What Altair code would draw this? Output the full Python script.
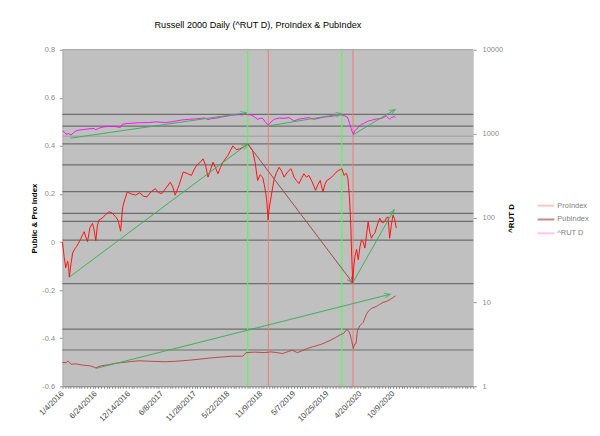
import json
import math
import altair as alt
import pandas as pd

# ---------------- layout constants ----------------
W, H = 415, 340
X_MAX = 1490          # trading-day categories on the x axis
LEFT_DOMAIN = [-0.6, 0.8]
RIGHT_DOMAIN = [1, 10000]
FONT = "Liberation Sans"

# ---------------- data ----------------
date_labels = ["1/4/2016", "6/24/2016", "12/14/2016", "6/8/2017", "11/28/2017",
               "5/22/2018", "11/9/2018", "5/7/2019", "10/25/2019", "4/20/2020",
               "10/9/2020"]
label_step = 120

pro_idx = [0, 6, 12, 16, 19, 22, 25, 31, 37, 44, 51, 58, 67, 73, 79, 85, 91, 100,
           109, 115, 121, 127, 133, 145, 157, 169, 181, 193, 202, 211, 215, 219,
           227, 235, 250, 265, 280, 295, 307, 322, 337, 349, 361, 376, 391, 400,
           409, 424, 438, 453, 468, 477, 486, 498, 510, 519, 528, 537, 546, 555,
           564, 573, 582, 600, 618, 630, 642, 657, 672, 681, 690, 699, 708, 717,
           726, 732, 738, 742, 746, 749, 752, 760, 768, 777, 786, 795, 804, 816,
           828, 834, 840, 849, 858, 867, 876, 885, 894, 906, 918, 927, 935, 945,
           952, 959, 971, 983, 992, 1001, 1007, 1013, 1018, 1022, 1027, 1031,
           1036, 1041, 1044, 1046, 1049, 1053, 1057, 1061, 1067, 1073, 1079, 1085,
           1091, 1097, 1103, 1109, 1115, 1121, 1127, 1133, 1142, 1151, 1160, 1169,
           1175, 1181, 1187, 1193, 1199, 1205, 1211]
pro_val = [0.0, -0.06, -0.107, -0.09, -0.08, -0.10, -0.146, -0.09, -0.046, -0.03,
           -0.019, -0.005, 0.015, 0.03, 0.043, 0.02, 0.002, 0.06, 0.078, 0.05,
           0.006, 0.07, 0.092, 0.10, 0.115, 0.126, 0.12, 0.105, 0.09, 0.045, 0.10,
           0.148, 0.18, 0.208, 0.20, 0.195, 0.205, 0.19, 0.188, 0.21, 0.222, 0.205,
           0.202, 0.225, 0.249, 0.23, 0.195, 0.24, 0.291, 0.285, 0.277, 0.30,
           0.318, 0.33, 0.346, 0.32, 0.27, 0.30, 0.332, 0.31, 0.284, 0.31, 0.332,
           0.36, 0.40, 0.385, 0.387, 0.395, 0.408, 0.395, 0.38, 0.33, 0.256, 0.28,
           0.27, 0.24, 0.20, 0.16, 0.092, 0.13, 0.154, 0.21, 0.263, 0.29, 0.311,
           0.295, 0.27, 0.29, 0.305, 0.29, 0.27, 0.255, 0.243, 0.265, 0.284, 0.27,
           0.277, 0.25, 0.215, 0.24, 0.256, 0.208, 0.24, 0.256, 0.265, 0.277,
           0.29, 0.298, 0.30, 0.305, 0.29, 0.277, 0.285, 0.284, 0.26, 0.188, 0.12,
           0.066, -0.05, -0.169, -0.10, -0.06, -0.03, -0.074, -0.02, 0.009, 0.0,
           -0.025, 0.03, 0.085, 0.04, 0.016, 0.03, 0.037, 0.07, 0.099, 0.08, 0.085,
           0.10, 0.105, 0.016, 0.07, 0.112, 0.095, 0.058]

pub_idx = [0, 13, 20, 31, 50, 73, 100, 121, 140, 169, 190, 217, 250, 277, 320,
           373, 410, 456, 500, 540, 580, 612, 654, 660, 666, 700, 732, 756, 780,
           798, 820, 834, 852, 870, 888, 910, 935, 950, 971, 990, 1007, 1020, 1031,
           1038, 1043, 1049, 1055, 1060, 1065, 1070, 1079, 1091, 1103, 1112, 1121,
           1139, 1150, 1163, 1175, 1187, 1198, 1208]
pub_val = [-0.501, -0.502, -0.495, -0.508, -0.507, -0.512, -0.515, -0.523, -0.515,
           -0.51, -0.505, -0.501, -0.497, -0.494, -0.496, -0.498, -0.496, -0.492,
           -0.487, -0.482, -0.478, -0.475, -0.475, -0.468, -0.46, -0.458, -0.46,
           -0.457, -0.46, -0.464, -0.455, -0.45, -0.46, -0.452, -0.443, -0.435,
           -0.427, -0.42, -0.409, -0.398, -0.386, -0.38, -0.364, -0.37, -0.382,
           -0.41, -0.443, -0.425, -0.423, -0.368, -0.348, -0.334, -0.299, -0.285,
           -0.276, -0.268, -0.26, -0.251, -0.247, -0.24, -0.232, -0.224]

rut_idx = [0, 8, 13, 22, 31, 40, 49, 60, 72, 85, 100, 115, 121, 130, 145, 157, 175,
           193, 210, 217, 235, 253, 280, 313, 340, 373, 400, 432, 460, 492, 515,
           528, 540, 560, 576, 595, 612, 630, 654, 666, 672, 684, 696, 708, 718,
           726, 738, 747, 756, 768, 786, 804, 822, 840, 858, 876, 894, 911, 930,
           948, 965, 983, 995, 1007, 1016, 1025, 1033, 1037, 1042, 1046, 1050,
           1055, 1061, 1067, 1076, 1085, 1097, 1109, 1121, 1133, 1145, 1157, 1166,
           1175, 1181, 1187, 1193, 1199, 1204, 1208]
rut_val = [1085, 1040, 993, 1010, 970, 1030, 1085, 1110, 1120, 1135, 1150, 1160,
           1120, 1160, 1200, 1218, 1230, 1218, 1190, 1300, 1330, 1337, 1360, 1360,
           1390, 1360, 1400, 1462, 1490, 1514, 1550, 1480, 1514, 1540, 1585, 1620,
           1660, 1680, 1706, 1740, 1690, 1680, 1600, 1490, 1530, 1530, 1360, 1265,
           1380, 1490, 1540, 1530, 1560, 1422, 1500, 1530, 1560, 1490, 1530, 1585,
           1600, 1630, 1660, 1690, 1660, 1630, 1580, 1490, 1320, 1186, 1080, 990,
           1100, 1135, 1230, 1300, 1350, 1422, 1450, 1490, 1510, 1530, 1580, 1630,
           1560, 1490, 1560, 1585, 1610, 1556]

# horizontal reference levels (left axis units)
levels_dark = [0.531, 0.482, 0.408, 0.321, 0.210, 0.119, 0.086, 0.008, -0.173,
               -0.362, -0.449]
levels_light = [0.8, 0.44]

# vertical markers (category index)
vlines_green = [672, 1013]
vlines_red = [747, 1054]

# trend arrows on the left axis: (x0, y0, x1, y1, colour)
left_arrows = [
    (25, -0.146, 672, 0.408, "#3DAF5A"),
    (672, 0.408, 1053, -0.17, "#A04848"),
    (1053, -0.17, 1203, 0.135, "#3DAF5A"),
    (121, -0.526, 1189, -0.217, "#3DAF5A"),
]
# trend arrows on the right (log) axis
right_arrows = [
    (29, 889, 666, 1782, "#3DAF5A"),
    (747, 1242, 1013, 1734, "#3DAF5A"),
    (1054, 973, 1207, 1950, "#3DAF5A"),
]

legend_names = ["ProIndex", "PubIndex", "^RUT D"]
legend_colors = ["#FFC4C4", "#C08A8A", "#FFC4FF"]


# ---------------- helpers ----------------
def head_angle_left(x0, y0, x1, y1):
    dx = (x1 - x0) * W / X_MAX
    dy = -(y1 - y0) * H / (LEFT_DOMAIN[1] - LEFT_DOMAIN[0])
    return math.degrees(math.atan2(dy, dx)) % 360


def head_angle_right(x0, y0, x1, y1):
    dx = (x1 - x0) * W / X_MAX
    dy = -(math.log10(y1) - math.log10(y0)) * H / 4
    return math.degrees(math.atan2(dy, dx)) % 360


def arrow_frames(arrows, angle_fn):
    seg = pd.DataFrame([{"x0": a[0], "y0": a[1], "x1": a[2], "y1": a[3], "c": a[4]}
                        for a in arrows])
    heads = pd.DataFrame([{"x": a[2], "y": a[3], "c": a[4],
                           "ang": angle_fn(a[0], a[1], a[2], a[3])} for a in arrows])
    return seg, heads


# ---------------- scales & axes ----------------
x_scale = alt.Scale(domain=[0, X_MAX], nice=False, zero=False)
labels_js = json.dumps(date_labels)
x_axis = alt.Axis(
    values=list(range(0, X_MAX + 1, 10)),
    labelExpr=(f"datum.value % {label_step} == 0 && datum.value <= "
               f"{label_step * (len(date_labels) - 1)} ? "
               f"{labels_js}[datum.value / {label_step}] : ''"),
    labelAngle=-45, labelAlign="right", labelBaseline="middle",
    labelOverlap=False, labelFlush=False, labelPadding=4,
    labelFontSize=8, labelColor="#454545", labelFont=FONT,
    tickSize=2, tickColor="#808080", domainColor="#808080",
    grid=False, title=None,
)

yl_scale = alt.Scale(domain=LEFT_DOMAIN, nice=False, zero=False)
yl_axis = alt.Axis(
    values=[-0.6, -0.4, -0.2, 0, 0.2, 0.4, 0.6, 0.8],
    labelExpr="toString(datum.value)",
    labelFontSize=7.5, labelColor="#8A8A8A", labelFont=FONT, labelPadding=5,
    tickSize=3, tickColor="#909090", domainColor="#A8A8A8", grid=False,
    title="Public & Pro Index", titleFontSize=8, titleFontWeight="bold",
    titleColor="#000000", titleFont=FONT, titleAngle=270, titleX=-26, titleY=H / 2,
    titleAlign="center", titleBaseline="alphabetic",
)

yr_scale = alt.Scale(type="log", domain=RIGHT_DOMAIN, nice=False)
yr_axis = alt.Axis(
    orient="right",
    values=[1, 10, 100, 1000, 10000],
    labelExpr="toString(datum.value)",
    labelFontSize=7.5, labelColor="#8A8A8A", labelFont=FONT, labelPadding=6,
    tickSize=3, tickColor="#909090", domain=False, grid=False,
    title="^RUT D", titleFontSize=8, titleFontWeight="bold",
    titleColor="#000000", titleFont=FONT, titleAngle=270, titleX=41, titleY=H / 2,
    titleAlign="center", titleBaseline="alphabetic",
)


def XL(field):
    return alt.X(field, type="quantitative", scale=x_scale, axis=x_axis)


def YL(field):
    return alt.Y(field, type="quantitative", scale=yl_scale, axis=yl_axis)


def YR(field):
    return alt.Y(field, type="quantitative", scale=yr_scale, axis=yr_axis)


arrow_shape = "M-1,-0.42L0,0L-1,0.42"

# ---------------- left-axis layers ----------------
lev_dark_df = pd.DataFrame({"v": levels_dark})
lev_light_df = pd.DataFrame({"v": levels_light})
vg_df = pd.DataFrame({"idx": vlines_green})
vr_df = pd.DataFrame({"idx": vlines_red})
pro_df = pd.DataFrame({"idx": pro_idx, "v": pro_val})
pub_df = pd.DataFrame({"idx": pub_idx, "v": pub_val})
la_seg, la_head = arrow_frames(left_arrows, head_angle_left)
legend_df = pd.DataFrame({"idx": [0] * 3, "v": [pro_val[0]] * 3, "series": legend_names})

light_layer = alt.Chart(lev_light_df).mark_rule(color="#A8A8A8", strokeWidth=1.6).encode(
    y=YL("v"))
dark_layer = alt.Chart(lev_dark_df).mark_rule(color="#6E6E6E", strokeWidth=1.2).encode(
    y=YL("v"))
vg_layer = alt.Chart(vg_df).mark_rule(color="#5CF55C", strokeWidth=1.2).encode(x=XL("idx"))
vr_layer = alt.Chart(vr_df).mark_rule(color="#F07C74", strokeWidth=1).encode(x=XL("idx"))
pub_layer = alt.Chart(pub_df).mark_line(color="#B83A3A", strokeWidth=0.9).encode(
    x=XL("idx"), y=YL("v"))
pro_layer = alt.Chart(pro_df).mark_line(color="#FF1010", strokeWidth=1).encode(
    x=XL("idx"), y=YL("v"))
la_seg_layer = alt.Chart(la_seg).mark_rule(strokeWidth=1).encode(
    x=XL("x0"), x2="x1:Q", y=YL("y0"), y2="y1:Q",
    color=alt.Color("c:N", scale=None))
la_head_layer = alt.Chart(la_head).mark_point(
    shape=arrow_shape, size=144, filled=False, strokeWidth=1).encode(
    x=XL("x"), y=YL("y"), angle=alt.Angle("ang:Q", scale=None),
    stroke=alt.Stroke("c:N", scale=None))
legend_layer = alt.Chart(legend_df).mark_line(strokeWidth=2).encode(
    x=XL("idx"), y=YL("v"),
    color=alt.Color("series:N",
                    scale=alt.Scale(domain=legend_names, range=legend_colors),
                    legend=alt.Legend(
                        orient="none", legendX=479, legendY=148, title=None,
                        symbolType="stroke", symbolSize=289, symbolStrokeWidth=2,
                        labelFontSize=7.5, labelColor="#808080", labelFont=FONT,
                        labelOffset=2, rowPadding=0)))

left = alt.layer(light_layer, dark_layer, vg_layer, vr_layer, pub_layer, pro_layer,
                 la_seg_layer, la_head_layer, legend_layer)

# ---------------- right-axis layers ----------------
rut_df = pd.DataFrame({"idx": rut_idx, "v": rut_val})
ra_seg, ra_head = arrow_frames(right_arrows, head_angle_right)

rut_layer = alt.Chart(rut_df).mark_line(color="#FF00FF", strokeWidth=0.9).encode(
    x=XL("idx"), y=YR("v"))
ra_seg_layer = alt.Chart(ra_seg).mark_rule(strokeWidth=1).encode(
    x=XL("x0"), x2="x1:Q", y=YR("y0"), y2="y1:Q",
    color=alt.Color("c:N", scale=None))
ra_head_layer = alt.Chart(ra_head).mark_point(
    shape=arrow_shape, size=144, filled=False, strokeWidth=1).encode(
    x=XL("x"), y=YR("y"), angle=alt.Angle("ang:Q", scale=None),
    stroke=alt.Stroke("c:N", scale=None))

right = alt.layer(rut_layer, ra_seg_layer, ra_head_layer)

chart = alt.layer(left, right).resolve_scale(y="independent").properties(
    width=W, height=H,
    padding={"left": 55, "top": 40, "right": 120, "bottom": 40},
    autosize=alt.AutoSizeParams(type="none"),
    background="white",
    title=alt.TitleParams(
        text="Russell 2000 Daily (^RUT D), ProIndex & PubIndex",
        fontSize=9.2, font=FONT, fontWeight="normal", color="#000000",
        anchor="middle", dx=-10, offset=9, baseline="alphabetic", frame="group"),
).configure_view(fill="#C0C0C0", stroke="transparent")

chart.save("out.html", embed_options={"renderer": "svg", "actions": False})
